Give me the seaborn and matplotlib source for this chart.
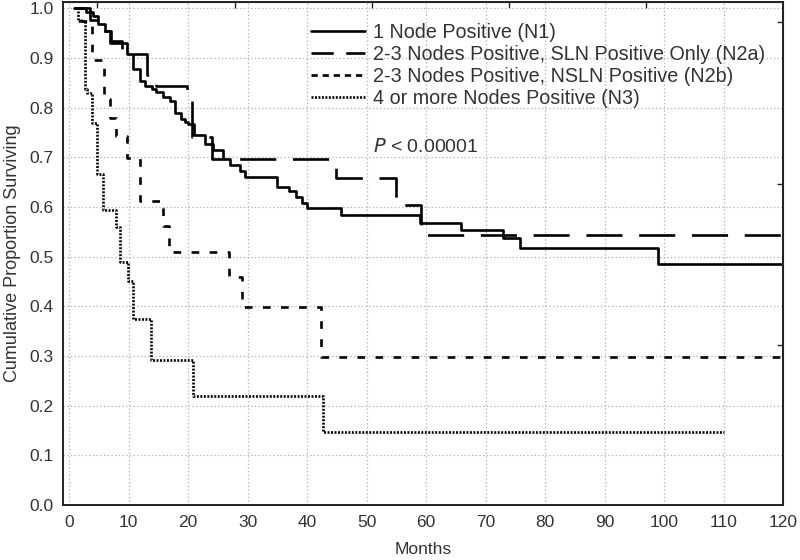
import pandas as pd
import matplotlib
matplotlib.use("Agg")
import matplotlib.pyplot as plt
import seaborn as sns

# ── Data ────────────────────────────────────────────────────────────────────
groups = [
    "1 Node Positive (N1)",
    "2-3 Nodes Positive, SLN Positive Only (N2a)",
    "2-3 Nodes Positive, NSLN Positive (N2b)",
    "4 or more Nodes Positive (N3)",
]

n1_months = [0.8, 2.9, 4.0, 4.9, 6.0, 6.9, 9.8, 10.8, 11.9, 12.7, 13.9, 14.6,
             15.8, 17.0, 17.8, 18.8, 19.5, 20.0, 21.0, 22.9, 24.2, 25.9, 27.0,
             28.7, 29.5, 35.0, 36.9, 38.1, 39.2, 40.0, 45.7, 59.0, 65.9, 72.9,
             75.8, 99.0, 120.0]
n1_surv = [1.0, 0.992, 0.985, 0.968, 0.955, 0.930, 0.908, 0.878, 0.854, 0.844,
           0.838, 0.831, 0.821, 0.814, 0.790, 0.778, 0.771, 0.767, 0.745, 0.727,
           0.714, 0.697, 0.684, 0.673, 0.660, 0.641, 0.633, 0.620, 0.607, 0.597,
           0.584, 0.568, 0.553, 0.537, 0.518, 0.485, 0.485]

n2a_months = [0.8, 3.5, 5.0, 7.0, 8.8, 13.0, 14.6, 19.8, 20.7, 24.0, 44.9,
              55.0, 59.2, 120.0]
n2a_surv = [1.0, 0.977, 0.954, 0.935, 0.908, 0.866, 0.843, 0.822, 0.741,
            0.697, 0.659, 0.604, 0.543, 0.543]

n2b_months = [0.8, 2.0, 3.8, 5.8, 6.9, 7.9, 9.8, 11.9, 15.8, 16.8, 26.8, 29.0,
              42.4, 120.0]
n2b_surv = [1.0, 0.974, 0.895, 0.818, 0.780, 0.742, 0.699, 0.613, 0.562,
            0.509, 0.459, 0.399, 0.298, 0.298]

n3_months = [0.8, 1.5, 2.7, 3.0, 3.9, 4.6, 5.7, 7.8, 8.5, 9.9, 10.8, 13.7,
             20.8, 42.7, 110.0]
n3_surv = [1.0, 0.975, 0.838, 0.830, 0.768, 0.667, 0.593, 0.559, 0.489, 0.452,
           0.375, 0.293, 0.220, 0.147, 0.147]

x_ticks = list(range(0, 121, 10))
y_ticks = [i / 10 for i in range(11)]
# odd extra tick marks on the top / right frame of the original
top_ticks = [4.7, 27.8, 50.9, 74.0, 97.0]
right_ticks = [0.322, 0.647, 0.972]

df = pd.concat([
    pd.DataFrame({"Months": m, "Surv": s, "Group": g})
    for g, m, s in zip(groups,
                       [n1_months, n2a_months, n2b_months, n3_months],
                       [n1_surv, n2a_surv, n2b_surv, n3_surv])
])

# ── Style ────────────────────────────────────────────────────────────────────
sns.set_style("white")
plt.rcParams["font.family"] = ["Liberation Sans", "DejaVu Sans"]
plt.rcParams["lines.scale_dashes"] = False
text_col = "#333333"

dashes = {
    groups[0]: "",
    groups[1]: (26, 12),
    groups[2]: (5.5, 7.5),
    groups[3]: (1.4, 1.1),
}

fig = plt.figure(figsize=(8, 5.6), dpi=100)
ax = fig.add_axes([0.079, 0.098, 0.9, 0.898])

sns.lineplot(data=df, x="Months", y="Surv", hue="Group", style="Group",
             hue_order=groups, style_order=groups,
             palette=["black"] * 4, dashes=dashes, drawstyle="steps-post",
             estimator=None, sort=False, linewidth=1.9, legend=False, ax=ax)

ax.set_xlim(-1, 120)
ax.set_ylim(0, 1.012)
ax.set_xticks(x_ticks)
ax.set_yticks(y_ticks)
ax.set_yticklabels([f"{v:.1f}" for v in y_ticks])
ax.grid(True, linestyle=":", color="#b5b5b5", linewidth=0.9)
ax.tick_params(direction="in", length=3, width=1, colors="black",
               labelcolor=text_col, labelsize=12.5, pad=7)
for sp in ax.spines.values():
    sp.set_color("#222222")
    sp.set_linewidth(1.4)

secx = ax.secondary_xaxis("top")
secx.set_xticks(top_ticks, labels=[])
secx.tick_params(direction="in", length=4, width=1)
secy = ax.secondary_yaxis("right")
secy.set_yticks(right_ticks, labels=[])
secy.tick_params(direction="in", length=4, width=1)

ax.set_xlabel("Months", fontsize=12.5, color=text_col, labelpad=9)
ax.set_ylabel("Cumulative Proportion Surviving", fontsize=13,
              color=text_col, labelpad=6)

leg = ax.legend(ax.get_lines()[:4], groups, loc="upper left",
                bbox_to_anchor=(0.344, 0.958), frameon=False, fontsize=14.2,
                handlelength=2.72, handletextpad=0.45, labelspacing=0.15,
                borderpad=0, borderaxespad=0, labelcolor=text_col)
# shorter dash pattern in the legend key, like the original
leg.get_lines()[1].set_dashes((16, 9))
leg.get_lines()[2].set_dashes((4.5, 3.5))

ax.text(51.0, 0.72, "$P$ < 0.00001", fontsize=14, color=text_col,
        va="center", ha="left")

fig.savefig("out.png", dpi=100)
